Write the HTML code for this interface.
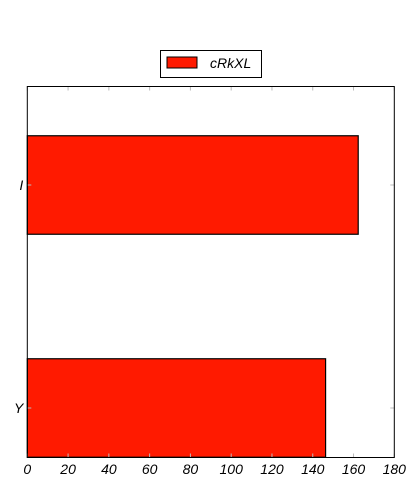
<!DOCTYPE html>
<html><head><meta charset="utf-8"><style>
body{margin:0;background:#fff;width:420px;height:490px;overflow:hidden}
svg text{font-family:"Liberation Sans",sans-serif;font-style:italic;font-size:14px;fill:#000}
</style></head><body>
<svg id="chart" width="420" height="490">
<rect x="160.5" y="50.5" width="101" height="27" fill="#fff" stroke="#000"/>
<rect x="167" y="57" width="30" height="11" fill="#ff1a00" stroke="#000"/>
<text x="210" y="68">cRkXL</text>
<g id="bars"></g>
<g id="ticks"></g>
<rect x="27.3" y="86.5" width="367" height="371" fill="none" stroke="#000"/>
</svg>
<script>
const categories=["Y","I"];
const values=[146.3,162.3];
const xTicks=[0,20,40,60,80,100,120,140,160,180];
const X0=27.3,X1=394.3,XMAX=180;
function xs(v){return X0+v*(X1-X0)/XMAX;}
function ys(i){return 408-i*223;}
const BH=98.5;
const NS="http://www.w3.org/2000/svg";
const bars=document.getElementById('bars'),ticks=document.getElementById('ticks');
function mk(tag,attrs,parent){const e=document.createElementNS(NS,tag);for(const k in attrs)e.setAttribute(k,attrs[k]);parent.appendChild(e);return e;}
categories.forEach((c,i)=>{
  const r=mk('rect',{x:xs(0),y:ys(i)-BH/2,width:xs(values[i])-xs(0),height:BH,fill:'#ff1a00',stroke:'#000','stroke-width':1.2},bars);
  
  
  const l=mk('line',{x1:X0,x2:X0+4,y1:ys(i),y2:ys(i),stroke:'#bbb'},ticks);
  
  
  const l2=mk('line',{x1:X1-4,x2:X1,y1:ys(i),y2:ys(i),stroke:'#bbb'},ticks);
  
  
  const t=mk('text',{x:X0-4,y:ys(i)+5,'text-anchor':'end'},ticks);
  t.textContent=c;
  
  
});
xTicks.forEach(v=>{
  const a=mk('line',{x1:xs(v),x2:xs(v),y1:457.5,y2:453.5,stroke:'#bbb'},ticks);
  
  
  const b=mk('line',{x1:xs(v),x2:xs(v),y1:86.5,y2:90.5,stroke:'#bbb'},ticks);
  
  
  const t=mk('text',{x:xs(v),y:474,'text-anchor':'middle'},ticks);
  t.textContent=v;
  
  
});
</script>
</body></html>
